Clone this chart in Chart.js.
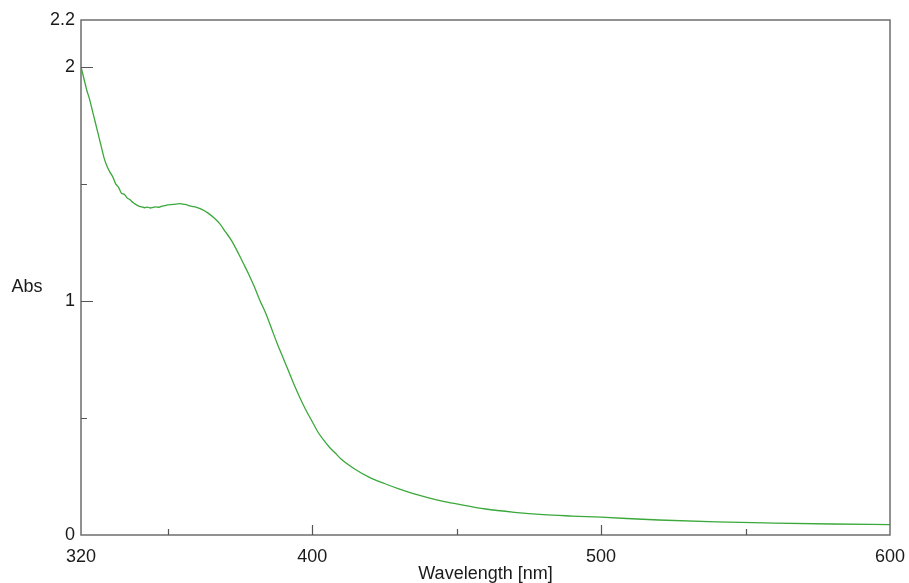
<!DOCTYPE html>
<html>
<head>
<meta charset="utf-8">
<script src="https://cdn.jsdelivr.net/npm/chart.js@4.4.0/dist/chart.umd.min.js"></script>
<style>
  html, body { margin: 0; padding: 0; background: #fff; }
  #wrap { width: 909px; height: 583px; }
</style>
</head>
<body>
<div id="wrap"><canvas id="spec" width="909" height="583"></canvas></div>
<script>
// spectrum
const wavelengths = [320, 321, 322, 323, 324, 325, 326, 327, 328, 329, 330, 331, 332, 333, 334, 335, 336, 337, 338, 339,
  340, 341, 342, 343, 344, 345, 346, 347, 348, 349, 350, 352, 354, 356, 358, 360, 362, 364, 366, 368,
  370, 372, 374, 376, 378, 380, 382, 384, 386, 388, 390, 392, 394, 396, 398, 400, 402, 404, 406, 408,
  410, 415, 420, 425, 430, 435, 440, 445, 450, 460, 470, 480, 490, 500, 520, 540, 560, 580, 600];
const absorbance = [2.00, 1.95, 1.90, 1.86, 1.81, 1.76, 1.71, 1.66, 1.61, 1.575, 1.55, 1.53, 1.50, 1.485, 1.46, 1.455, 1.44, 1.432, 1.42, 1.412,
  1.405, 1.402, 1.398, 1.401, 1.397, 1.400, 1.402, 1.400, 1.405, 1.407, 1.410, 1.412, 1.416, 1.412, 1.405, 1.400, 1.390, 1.375, 1.355, 1.330,
  1.295, 1.260, 1.215, 1.165, 1.115, 1.060, 1.000, 0.945, 0.880, 0.815, 0.755, 0.695, 0.635, 0.580, 0.530, 0.485, 0.440, 0.405, 0.375, 0.350,
  0.325, 0.280, 0.245, 0.220, 0.197, 0.177, 0.160, 0.145, 0.133, 0.111, 0.097, 0.087, 0.081, 0.076, 0.064, 0.056, 0.051, 0.047, 0.044];

// axis ticks
const xTicks = [320, 350, 400, 450, 500, 550, 600];
const xLabelled = [320, 400, 500, 600];
const yTicks = [0, 0.5, 1, 1.5, 2, 2.2];
const yLabelled = [0, 1, 2, 2.2];

const axisColor = '#6e6e6e';
const fontFamily = '"Liberation Sans", Arial, sans-serif';

// box round the plot, inward tick marks and the "Abs" label
const frame = {
  id: 'frame',
  afterDatasetsDraw(chart) {
    const {ctx, chartArea: a, scales: {x, y}} = chart;
    ctx.save();
    ctx.strokeStyle = axisColor;
    ctx.lineWidth = 1.5;
    ctx.strokeRect(a.left, a.top, a.right - a.left, a.bottom - a.top);
    ctx.strokeStyle = '#555';
    ctx.lineWidth = 1.2;
    ctx.beginPath();
    xTicks.forEach(v => {
      if (v === 320 || v === 600) return;
      const px = Math.round(x.getPixelForValue(v)) + 0.5;
      const len = xLabelled.includes(v) ? 10 : 6;
      ctx.moveTo(px, a.bottom);
      ctx.lineTo(px, a.bottom - len);
    });
    yTicks.forEach(v => {
      if (v === 0 || v === 2.2) return;
      const py = Math.round(y.getPixelForValue(v)) + 0.5;
      const len = yLabelled.includes(v) ? 12 : 6;
      ctx.moveTo(a.left, py);
      ctx.lineTo(a.left + len, py);
    });
    ctx.stroke();
    ctx.fillStyle = '#1a1a1a';
    ctx.font = '18px ' + fontFamily;
    ctx.textAlign = 'center';
    ctx.textBaseline = 'middle';
    ctx.fillText('Abs', 27, 287);
    ctx.restore();
  }
};

new Chart(document.getElementById('spec'), {
  type: 'line',
  data: {
    datasets: [{
      data: wavelengths.map((w, i) => ({x: w, y: absorbance[i]})),
      borderColor: '#3aa83a',
      borderWidth: 1.3,
      pointRadius: 0,
      fill: false,
      cubicInterpolationMode: 'monotone'
    }]
  },
  options: {
    responsive: false,
    animation: false,
    events: [],
    layout: {padding: {left: 0, top: 20, right: 19, bottom: 0}},
    plugins: {legend: {display: false}, tooltip: {enabled: false}},
    scales: {
      x: {
        type: 'linear',
        min: 320,
        max: 600,
        grid: {display: false, drawTicks: false},
        border: {display: false},
        afterBuildTicks: s => { s.ticks = xTicks.map(v => ({value: v})); },
        afterFit: s => { s.height = 48; s.paddingLeft = 0; s.paddingRight = 0; },
        ticks: {
          autoSkip: false,
          maxRotation: 0,
          padding: 11,
          color: '#1a1a1a',
          font: {family: fontFamily, size: 18},
          callback: v => xLabelled.includes(v) ? String(v) : ''
        },
        title: {
          display: true,
          text: 'Wavelength [nm]',
          color: '#1a1a1a',
          padding: 0,
          font: {family: fontFamily, size: 18, lineHeight: 1}
        }
      },
      y: {
        min: 0,
        max: 2.2,
        grid: {display: false, drawTicks: false},
        border: {display: false},
        afterBuildTicks: s => { s.ticks = yTicks.map(v => ({value: v})); },
        afterFit: s => { s.width = 81; s.paddingTop = 0; s.paddingBottom = 0; },
        ticks: {
          autoSkip: false,
          padding: 6,
          color: '#1a1a1a',
          font: {family: fontFamily, size: 18},
          callback: v => yLabelled.includes(v) ? String(v) : ''
        }
      }
    }
  },
  plugins: [frame]
});
</script>
</body>
</html>
